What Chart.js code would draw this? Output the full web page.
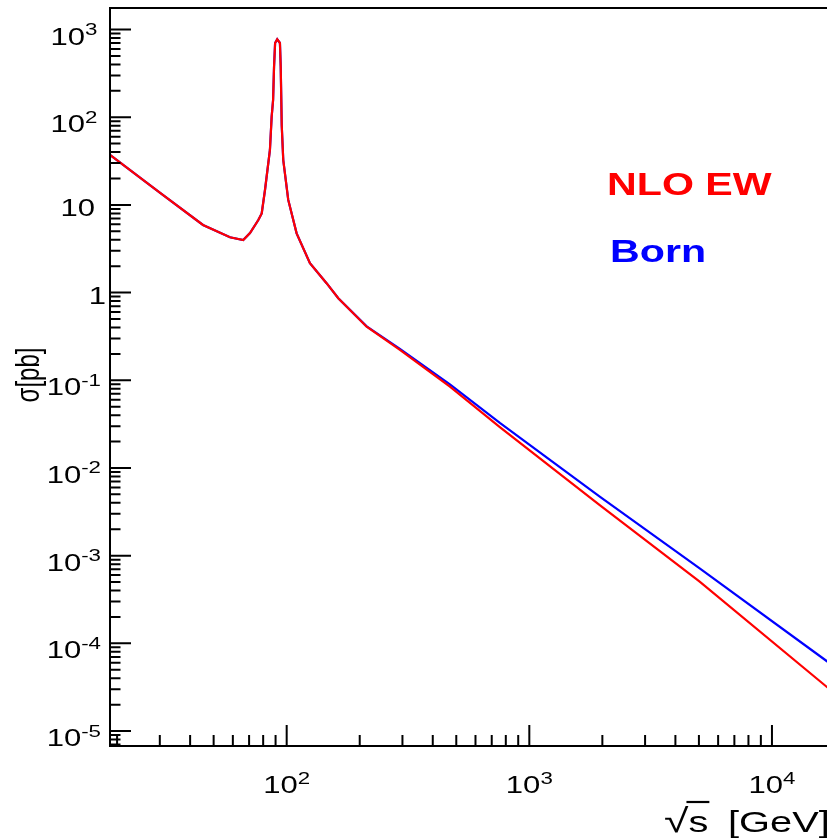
<!DOCTYPE html>
<html>
<head>
<meta charset="utf-8">
<script src="https://cdn.jsdelivr.net/npm/chart.js@4.4.0/dist/chart.umd.min.js"></script>
<style>
  html, body { margin: 0; padding: 0; background: #fff; overflow: hidden; }
  canvas { display: block; }
</style>
</head>
<body>
<canvas id="xsec" width="860" height="839"></canvas>
<script>
// sqrt(s) in GeV, shared by both curves
const energy = [18.7, 30, 45.2, 58.4, 66.2, 70.6, 76.4, 78.9, 81.4, 85.3, 86.7, 87.9, 88.7, 89.6, 91.4,
  93.8, 94.5, 95.4, 96.8, 101.5, 109.9, 124.7, 146, 163.2, 213.6, 292.9, 470.7, 756, 1951, 5036, 16800, 20000];

// cross sections in pb
const sigmaBorn = [37.1, 13.8, 5.9, 4.27, 3.98, 4.78, 6.72, 8.0, 14.8, 42.3, 101, 157, 377, 702, 773,
  702, 377, 81.5, 32.5, 11.4, 4.74, 2.16, 1.28, 0.861, 0.412, 0.228, 0.090, 0.0326, 4.70e-3, 7.18e-4, 6.29e-5, 4.43e-5];
const sigmaNLO = [37.1, 13.8, 5.9, 4.27, 3.98, 4.78, 6.72, 8.0, 14.8, 42.3, 101, 157, 377, 702, 773,
  702, 377, 81.5, 32.5, 11.4, 4.74, 2.16, 1.28, 0.861, 0.408, 0.222, 0.0845, 0.0293, 3.78e-3, 5.05e-4, 3.20e-5, 2.15e-5];

const xRange = [18.7, 20000];
const yRange = [6.75e-6, 1760];
const xMajor = [100, 1000, 10000];
const xTickLabels = ['10^2', '10^3', '10^4'];
const yMajor = [1e-5, 1e-4, 1e-3, 1e-2, 1e-1, 1, 10, 100, 1000];
const yTickLabels = ['10^-5', '10^-4', '10^-3', '10^-2', '10^-1', '1', '10', '10^2', '10^3'];

const STRETCH = 1.35;   // text in the reference is drawn wide
const FONT = '"Liberation Sans", Arial, sans-serif';

function wide(ctx, str, x, y, font, color) {
  ctx.save();
  ctx.font = font;
  ctx.fillStyle = color || '#000';
  ctx.textAlign = 'left';
  ctx.textBaseline = 'alphabetic';
  ctx.translate(x, y);
  ctx.scale(STRETCH, 1);
  ctx.fillText(str, 0, 0);
  ctx.restore();
}

function textW(ctx, str, font) {
  ctx.font = font;
  return ctx.measureText(str).width * STRETCH;
}

// "10^2" -> base + superscript, returns total width
function powerLabel(ctx, label, x, y, measureOnly) {
  const parts = label.split('^');
  const baseFont = '23px ' + FONT, supFont = '16.5px ' + FONT;
  const wb = textW(ctx, parts[0], baseFont);
  const ws = parts[1] ? textW(ctx, parts[1], supFont) : 0;
  if (!measureOnly) {
    wide(ctx, parts[0], x, y, baseFont);
    if (parts[1]) wide(ctx, parts[1], x + wb, y - 9.5, supFont);
  }
  return wb + ws;
}

function minorValues(min, max) {
  const out = [];
  for (let n = Math.floor(Math.log10(min)); n <= Math.ceil(Math.log10(max)); n++) {
    for (let m = 2; m <= 9; m++) {
      const v = m * Math.pow(10, n);
      if (v >= min && v <= max) out.push(v);
    }
  }
  return out;
}

// ROOT-like frame: inward ticks, power labels, text labels
const rootFrame = {
  id: 'rootFrame',
  afterDraw(chart) {
    const ctx = chart.ctx;
    const a = chart.chartArea;
    const xs = chart.scales.x, ys = chart.scales.y;

    ctx.save();
    ctx.strokeStyle = '#000';
    ctx.lineWidth = 2;
    ctx.beginPath();
    ctx.moveTo(a.left, a.top); ctx.lineTo(a.right, a.top);
    ctx.lineTo(a.right, a.bottom); ctx.lineTo(a.left, a.bottom);
    ctx.closePath();
    ctx.stroke();

    ctx.beginPath();
    xMajor.forEach(v => {
      const px = xs.getPixelForValue(v);
      ctx.moveTo(px, a.bottom); ctx.lineTo(px, a.bottom - 21);
    });
    minorValues(xRange[0], xRange[1]).forEach(v => {
      const px = xs.getPixelForValue(v);
      ctx.moveTo(px, a.bottom); ctx.lineTo(px, a.bottom - 11);
    });
    yMajor.forEach(v => {
      const py = ys.getPixelForValue(v);
      ctx.moveTo(a.left, py); ctx.lineTo(a.left + 21, py);
    });
    minorValues(yRange[0], yRange[1]).forEach(v => {
      const py = ys.getPixelForValue(v);
      ctx.moveTo(a.left, py); ctx.lineTo(a.left + 10.5, py);
    });
    ctx.stroke();
    ctx.restore();

    // x tick labels
    xMajor.forEach((v, i) => {
      const px = xs.getPixelForValue(v);
      const w = powerLabel(ctx, xTickLabels[i], 0, 0, true);
      powerLabel(ctx, xTickLabels[i], px - w / 2, 793);
    });

    // y tick labels (right edges as in the reference)
    yMajor.forEach((v, i) => {
      const py = ys.getPixelForValue(v);
      const lab = yTickLabels[i];
      const w = powerLabel(ctx, lab, 0, 0, true);
      let right;
      if (lab.indexOf('^-') >= 0) right = 101;
      else if (lab.indexOf('^') >= 0) right = 97.5;
      else if (lab.length === 2) right = 95;
      else right = 106;
      const hasSup = lab.indexOf('^') >= 0;
      powerLabel(ctx, lab, right - w, py + (hasSup ? 15 : 11));
    });

    // axis titles
    const tFont = '29.5px ' + FONT;
    const radFont = '33px ' + FONT;
    wide(ctx, '\u221A', 664, 832, radFont);
    const wRad = textW(ctx, '\u221A', radFont);
    wide(ctx, 's', 664 + wRad, 832, tFont);
    const wS = textW(ctx, 's', tFont);
    ctx.save();
    ctx.strokeStyle = '#000';
    ctx.lineWidth = 2.2;
    ctx.beginPath();
    ctx.moveTo(664 + wRad - 2, 802); ctx.lineTo(664 + wRad + wS + 1, 802);
    ctx.stroke();
    ctx.restore();
    wide(ctx, '[GeV]', 728, 832, tFont);

    ctx.save();
    ctx.font = '24px ' + FONT;
    ctx.fillStyle = '#000';
    ctx.textAlign = 'center';
    ctx.textBaseline = 'alphabetic';
    ctx.translate(38.5, 375);
    ctx.scale(STRETCH, 1);
    ctx.rotate(-Math.PI / 2);
    ctx.fillText('\u03C3[pb]', 0, 0);
    ctx.restore();

    // series labels
    const ds = chart.data.datasets;
    wide(ctx, ds[0].label, 607, 195, 'bold 30.5px ' + FONT, ds[0].borderColor);
    wide(ctx, ds[1].label, 610, 262, 'bold 30.5px ' + FONT, ds[1].borderColor);
  }
};

new Chart(document.getElementById('xsec'), {
  type: 'line',
  data: {
    labels: energy,
    datasets: [
      {
        label: 'NLO EW',
        data: energy.map((e, i) => ({ x: e, y: sigmaNLO[i] })),
        borderColor: '#ff0000',
        borderWidth: 2.2,
        pointRadius: 0,
        tension: 0,
        fill: false
      },
      {
        label: 'Born',
        data: energy.map((e, i) => ({ x: e, y: sigmaBorn[i] })),
        borderColor: '#0000ff',
        borderWidth: 2.2,
        pointRadius: 0,
        tension: 0,
        fill: false
      }
    ]
  },
  options: {
    responsive: false,
    animation: false,
    layout: { padding: { left: 110, top: 8, right: 15, bottom: 93 } },
    plugins: { legend: { display: false }, tooltip: { enabled: false } },
    scales: {
      x: { type: 'logarithmic', min: xRange[0], max: xRange[1], display: false },
      y: { type: 'logarithmic', min: yRange[0], max: yRange[1], display: false }
    }
  },
  plugins: [rootFrame]
});
</script>
</body>
</html>
